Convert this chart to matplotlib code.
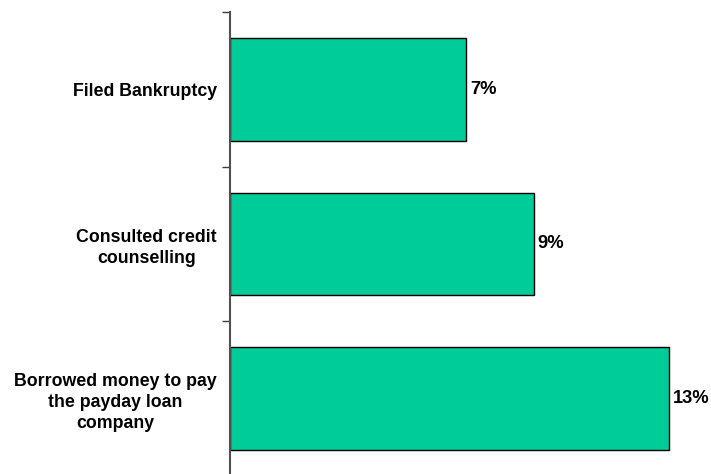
import matplotlib.pyplot as plt
import numpy as np

plt.rcParams['font.family'] = ['Liberation Sans', 'DejaVu Sans']

categories = ["Filed Bankruptcy", "Consulted credit\ncounselling",
              "Borrowed money to pay\nthe payday loan\ncompany"]
values = [7, 9, 13]
value_labels = ["7%", "9%", "13%"]

fig = plt.figure(figsize=(7.11, 4.74), dpi=100)
ax = fig.add_axes([0.3235, -0.004, 0.665, 0.9787])

pos = np.arange(len(categories))
ax.barh(pos, values, height=0.665, color="#00CC99", edgecolor="black", linewidth=1)

for p, v, lab in zip(pos, values, value_labels):
    ax.text(v + 0.1, p, lab, va="center", ha="left", fontsize=13.2, fontweight="bold")

ax.set_xlim(0, 14)
ax.set_ylim(2.5, -0.5)

# tick marks at category boundaries, labels at centres
ax.set_yticks(np.arange(-0.5, len(categories), 1.0))
ax.set_yticklabels([])
ax.tick_params(axis="y", which="major", length=6, width=1, color="#404040", direction="out")
ax.set_yticks(pos, minor=True)
ax.set_yticklabels(categories, minor=True, fontsize=12.8, fontweight="bold",
                   ha="right", multialignment="center", linespacing=1.3)
ax.tick_params(axis="y", which="minor", length=0, pad=9.5)

ax.set_xticks([])
for s in ["top", "right", "bottom"]:
    ax.spines[s].set_visible(False)
ax.spines["left"].set_color("#505050")
ax.spines["left"].set_linewidth(1.5)

fig.savefig("out.png", dpi=100)
